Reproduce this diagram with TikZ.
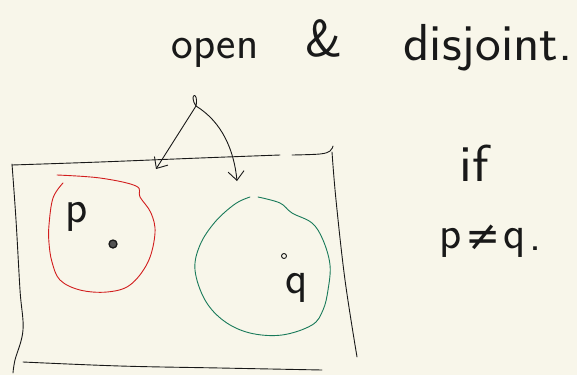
\documentclass[tikz,border=0pt]{standalone}
\usepackage{fontspec}
\newfontfamily\symfont{DejaVu Sans}
\usetikzlibrary{arrows.meta}
\definecolor{paper}{RGB}{248,246,234}
\definecolor{inkred}{RGB}{210,30,30}
\definecolor{inkgreen}{RGB}{25,122,90}
\definecolor{ink}{RGB}{25,25,25}
\tikzset{
  pen/.style={draw=ink,line width=0.9pt,line cap=round,line join=round},
  hand/.style={font=\sffamily\fontsize{46}{48}\selectfont,text=ink,inner sep=0pt,anchor=base},
  handbig/.style={font=\sffamily\fontsize{52}{54}\selectfont,text=ink,inner sep=0pt,anchor=base},
  tip/.style={-{Straight Barb[length=9pt,width=16pt,line width=0.9pt]}}
}
\begin{document}
\begin{tikzpicture}[x=1pt,y=-1pt]
\fill[paper] (0,0) rectangle (577,375);
\useasboundingbox (0,0) rectangle (577,375);
% text
\node[hand] (open) at (215,58) {open};
\node[handbig] (disj) at (488,60) {\scalebox{1.05}[1]{disjoint.}};
\node[handbig] (amp) at (324,56) {\&};
\node[handbig] (if) at (474,181) {\scalebox{1.1}[1]{if}};
\node[hand] (np) at (451,248) {p};
\node[hand,font=\symfont\fontsize{42}{44}\selectfont] (ne) at (483,250) {≠};
\node[hand] (nq) at (515,248) {q};
\node[hand] (dot) at (535,250) {.};
% frame
\draw[pen] plot[smooth,tension=0.6] coordinates {(12,165) (100,162) (200,158) (280,155)};
\draw[pen] plot[smooth,tension=0.6] coordinates {(292,155) (320,154) (330,151) (333,146)};
\draw[pen] plot[smooth,tension=0.6] coordinates {(332,152) (336,200) (345,280) (357,357)};
\draw[pen] plot[smooth,tension=0.6] coordinates {(12,164) (16,220) (20,290) (23,330) (15,360) (13,373)};
\draw[pen] plot[smooth,tension=0.6] coordinates {(23,362) (120,366) (220,368) (322,370)};
% red open set
\draw[inkred,line width=0.9pt,line cap=round] plot[smooth,tension=0.6] coordinates {(63,183) (53,198) (49,225) (49,243) (52,262) (60,280) (80,290) (107,292) (130,285) (148,262) (155,233) (151,213) (140,197) (136,186) (100,178) (57,175)};
% green open set
\draw[inkgreen,line width=0.9pt,line cap=round] plot[smooth,tension=0.6] coordinates {(258,197) (280,203) (292,213) (312,223) (323,240) (330,265) (328,290) (323,310) (312,325) (282,335) (250,333) (224,321) (205,300) (195,270) (200,245) (215,222) (235,204) (250,197)};
% points
\node[circle,draw=ink,fill=ink!75,line width=1.3pt,inner sep=0pt,minimum size=8pt] (p) at (113,244) {};
\node[circle,draw=ink,line width=0.9pt,inner sep=0pt,minimum size=5pt] (q) at (284,256) {};
\node[hand] (plab) at (77,222) {p};
\node[hand] (qlab) at (297,293) {q};
% arrows from the loop
\coordinate (top) at (196,106);
\coordinate (lend) at (156,169);
\coordinate (rend) at (237,181);
\draw[pen] (top) .. controls (188,94) and (199,90) .. (top);
\draw[pen,tip] (top) -- (lend);
\draw[pen,tip] (top) .. controls (222,122) and (234,150) .. (rend);
\end{tikzpicture}
\end{document}
